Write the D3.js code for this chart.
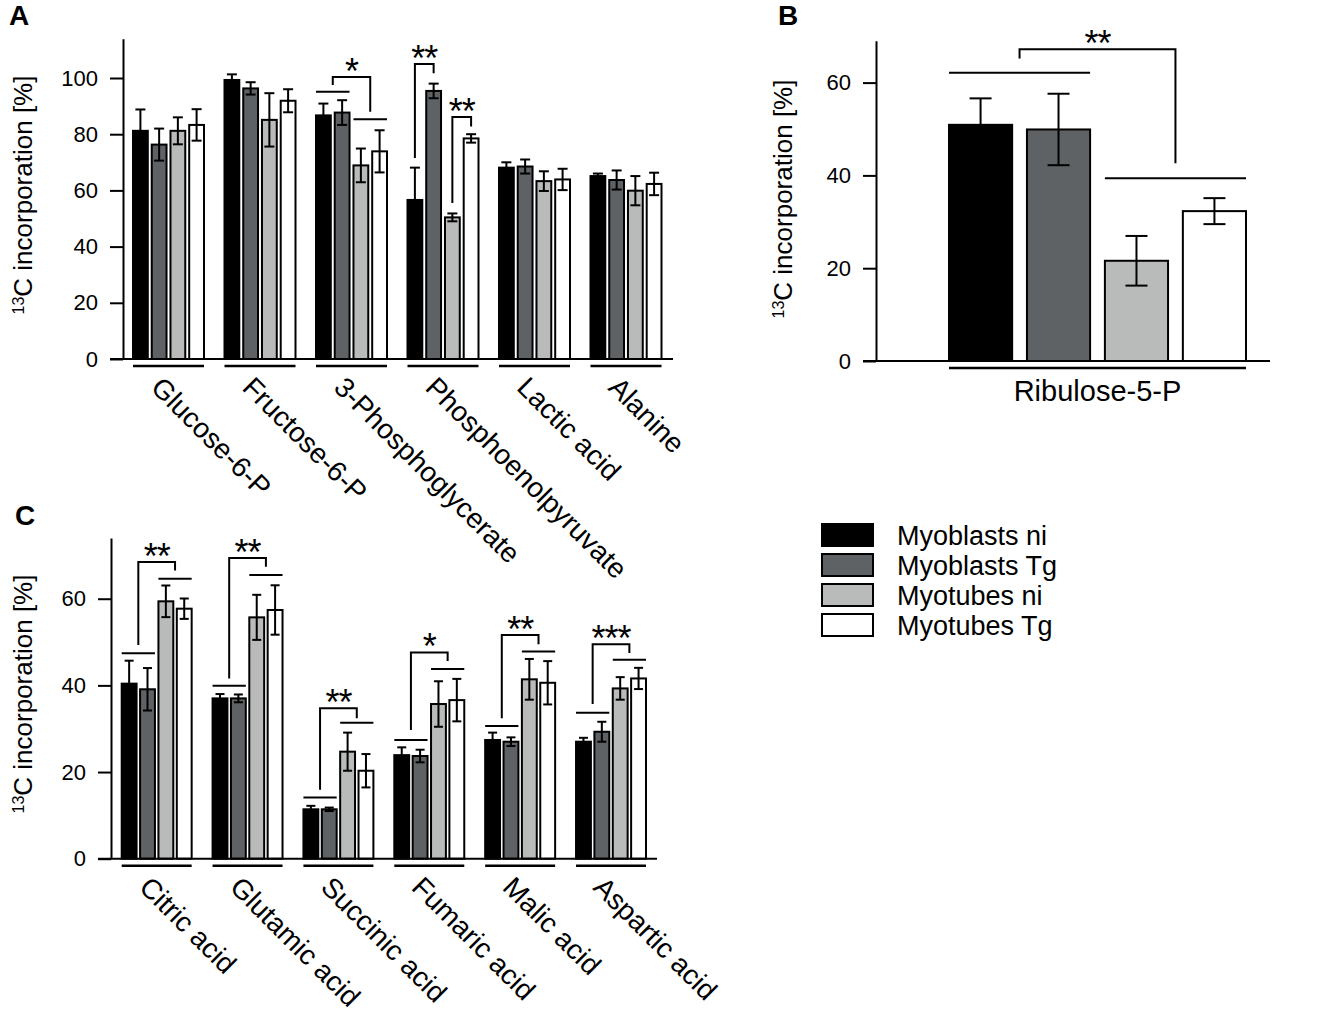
<!DOCTYPE html>
<html>
<head>
<meta charset="utf-8">
<script src="https://cdn.jsdelivr.net/npm/d3@7"></script>
<style>
    body { margin: 0; background: #fff; }
    svg { font-family: "Liberation Sans", Arial, sans-serif; }
    .axis path, .axis line { stroke: #000; stroke-width: 2; }
    .axis text { font-size: 22px; fill: #000; }
</style>
</head>
<body>
<div id="figure"></div>
<script>
// ---------------------------------------------------------------------------
// ------------------------------- Data --------------------------------------
// ---------------------------------------------------------------------------
var conditions = ["Myoblasts ni", "Myoblasts Tg", "Myotubes ni", "Myotubes Tg"];

// A - glycolysis
var glycolysisNames = ["Glucose-6-P", "Fructose-6-P", "3-Phosphoglycerate", "Phosphoenolpyruvate", "Lactic acid", "Alanine"];
var glycolysisMeans = [
    [81.2, 76.3, 81.2, 83.3],
    [99.3, 96.3, 85.1, 91.9],
    [86.7, 87.7, 68.9, 73.9],
    [56.6, 95.4, 50.4, 78.5],
    [68.1, 68.5, 63.3, 63.9],
    [65.1, 63.7, 59.9, 62.3]
];
var glycolysisErrors = [
    [7.6, 5.7, 4.8, 5.6],
    [2.0, 2.2, 9.5, 4.1],
    [4.2, 4.4, 6.0, 7.5],
    [11.5, 2.6, 1.4, 1.5],
    [1.9, 2.5, 3.5, 3.8],
    [0.9, 3.4, 5.2, 4.0]
];
var glycolysisTicks = [0, 20, 40, 60, 80, 100];
// significance brackets (values in % units)
var glycolysisSignif = [
    {cat: 2, left: [0, 1], right: [2, 3], lineL: 95.1, lineR: 85.3, top: 100.4, legL: 97.5, legR: 88.0, stars: "*"},
    {cat: 3, left: [0, 0], right: [1, 1], top: 105.0, legL: 71.5, legR: 101.7, stars: "**"},
    {cat: 3, left: [2, 2], right: [3, 3], top: 86.1, legL: 55.5, legR: 82.7, stars: "**"}
];

// B - pentose phosphate
var pppNames = ["Ribulose-5-P"];
var pppMeans = [[50.9, 49.9, 21.6, 32.3]];
var pppErrors = [[5.7, 7.7, 5.35, 2.8]];
var pppTicks = [0, 20, 40, 60];
var pppSignif = [
    {cat: 0, left: [0, 1], right: [2, 3], lineL: 62.1, lineR: 39.4, top: 67.2, legL: 65.2, legR: 42.6, stars: "**"}
];

// C - TCA cycle
var tcaNames = ["Citric acid", "Glutamic acid", "Succinic acid", "Fumaric acid", "Malic acid", "Aspartic acid"];
var tcaMeans = [
    [40.4, 39.1, 59.4, 57.7],
    [37.0, 37.0, 55.7, 57.4],
    [11.4, 11.4, 24.7, 20.3],
    [23.9, 23.7, 35.7, 36.6],
    [27.4, 27.0, 41.4, 40.6],
    [27.0, 29.3, 39.3, 41.6]
];
var tcaErrors = [
    [5.3, 4.9, 3.65, 2.35],
    [1.0, 0.9, 5.2, 5.7],
    [0.8, 0.4, 4.4, 3.85],
    [1.8, 1.45, 5.25, 4.9],
    [1.7, 1.0, 4.7, 5.0],
    [0.9, 2.3, 2.6, 2.45]
];
var tcaTicks = [0, 20, 40, 60];
var tcaSignif = [
    {cat: 0, left: [0, 1], right: [2, 3], lineL: 47.4, lineR: 64.6, top: 68.5, legL: 49.3, legR: 66.5, stars: "**"},
    {cat: 1, left: [0, 1], right: [2, 3], lineL: 39.9, lineR: 65.5, top: 69.4, legL: 41.6, legR: 67.4, stars: "**"},
    {cat: 2, left: [0, 1], right: [2, 3], lineL: 14.1, lineR: 31.4, top: 34.7, legL: 15.9, legR: 32.4, stars: "**"},
    {cat: 3, left: [0, 1], right: [2, 3], lineL: 27.4, lineR: 43.8, top: 47.6, legL: 29.7, legR: 45.6, stars: "*"},
    {cat: 4, left: [0, 1], right: [2, 3], lineL: 30.6, lineR: 47.8, top: 51.6, legL: 32.4, legR: 49.5, stars: "**"},
    {cat: 5, left: [0, 1], right: [2, 3], lineL: 33.7, lineR: 45.9, top: 49.5, legL: 35.7, legR: 47.5, stars: "***"}
];

(function (d3) {
    "use strict";

    var fills = ["#000000", "#5e6265", "#b9baba", "#ffffff"];

    var svg = d3.select("#figure").append("svg")
        .attr("width", 1321)
        .attr("height", 1012);

    // -----------------------------------------------------------------------
    // ------------------------------ Panels ---------------------------------
    // -----------------------------------------------------------------------
    drawPanel(svg, {
        letter: "A", letterX: 9, letterY: 25,
        names: glycolysisNames, means: glycolysisMeans, errors: glycolysisErrors,
        ticks: glycolysisTicks, signif: glycolysisSignif,
        yMax: 114, y0: 359, pxPerUnit: 2.81,
        axisX: 123, barsX: [133, 661.5], baseX: [110, 673],
        groupPad: 0.224, barPad: 0.21, cap: 10,
        titleX: 32, titleY: 195, rotated: true
    });

    drawPanel(svg, {
        letter: "B", letterX: 778, letterY: 25,
        names: pppNames, means: pppMeans, errors: pppErrors,
        ticks: pppTicks, signif: pppSignif,
        yMax: 69, y0: 361, pxPerUnit: 4.64,
        axisX: 876, barsX: [949, 1246], baseX: [863, 1270],
        groupPad: 0, barPad: 0.19, cap: 22,
        titleX: 792, titleY: 199, rotated: false
    });

    drawPanel(svg, {
        letter: "C", letterX: 15, letterY: 525,
        names: tcaNames, means: tcaMeans, errors: tcaErrors,
        ticks: tcaTicks, signif: tcaSignif,
        yMax: 74, y0: 858.7, pxPerUnit: 4.333,
        axisX: 111, barsX: [121.7, 646], baseX: [98, 657],
        groupPad: 0.23, barPad: 0.19, cap: 9,
        titleX: 32, titleY: 694, rotated: true
    });

    // -----------------------------------------------------------------------
    // ------------------------------ Legend ---------------------------------
    // -----------------------------------------------------------------------
    var legend = svg.append("g").attr("class", "legend")
        .attr("transform", "translate(822,524)");
    conditions.forEach(function (name, i) {
        legend.append("rect")
            .attr("x", 0).attr("y", i * 30)
            .attr("width", 51).attr("height", 22)
            .attr("fill", fills[i])
            .attr("stroke", "#000").attr("stroke-width", 2);
        legend.append("text")
            .attr("x", 75).attr("y", i * 30 + 21)
            .style("font-size", "27px")
            .text(name);
    });

    function drawPanel(svg, p) {
        var g = svg.append("g");

        var yScale = d3.scaleLinear()
            .domain([0, p.yMax])
            .range([p.y0, p.y0 - p.yMax * p.pxPerUnit]);

        var xScale = d3.scaleBand()
            .domain(p.names)
            .range(p.barsX)
            .paddingInner(p.groupPad)
            .paddingOuter(0);

        var xInner = d3.scaleBand()
            .domain(d3.range(conditions.length))
            .range([0, xScale.bandwidth()])
            .paddingInner(p.barPad)
            .paddingOuter(0);

        // panel letter
        svg.append("text")
            .attr("x", p.letterX).attr("y", p.letterY)
            .style("font-size", "28px").style("font-weight", "bold")
            .text(p.letter);

        // y axis title
        var title = svg.append("text")
            .attr("transform", "translate(" + p.titleX + "," + p.titleY + ")rotate(-90)")
            .attr("text-anchor", "middle")
            .style("font-size", "26px");
        title.append("tspan").attr("baseline-shift", "super").style("font-size", "16px").text("13");
        title.append("tspan").text("C incorporation [%]");

        // bars
        p.names.forEach(function (name, ci) {
            var cat = g.append("g")
                .attr("transform", "translate(" + xScale(name) + ",0)");

            cat.selectAll("rect")
                .data(p.means[ci])
                .enter().append("rect")
                .attr("x", function (d, i) { return xInner(i); })
                .attr("y", function (d) { return yScale(d); })
                .attr("width", xInner.bandwidth())
                .attr("height", function (d) { return yScale(0) - yScale(d); })
                .attr("fill", function (d, i) { return fills[i]; })
                .attr("stroke", "#000")
                .attr("stroke-width", 2);

            // error bars
            p.means[ci].forEach(function (m, i) {
                var e = p.errors[ci][i];
                var cx = xInner(i) + xInner.bandwidth() / 2;
                cat.append("line")
                    .attr("x1", cx).attr("x2", cx)
                    .attr("y1", yScale(m - e)).attr("y2", yScale(m + e))
                    .attr("stroke", "#000").attr("stroke-width", 2);
                [m - e, m + e].forEach(function (v) {
                    cat.append("line")
                        .attr("x1", cx - p.cap / 2).attr("x2", cx + p.cap / 2)
                        .attr("y1", yScale(v)).attr("y2", yScale(v))
                        .attr("stroke", "#000").attr("stroke-width", 2);
                });
            });

            // group underline
            g.append("line")
                .attr("x1", xScale(name)).attr("x2", xScale(name) + xScale.bandwidth())
                .attr("y1", yScale(0) + 7).attr("y2", yScale(0) + 7)
                .attr("stroke", "#000").attr("stroke-width", 2.5);

            // category label
            var cx = xScale(name) + xScale.bandwidth() / 2;
            if (p.rotated) {
                g.append("text")
                    .attr("transform", "translate(" + (cx - 19) + "," + (yScale(0) + 30) + ")rotate(45)")
                    .style("font-size", "28px")
                    .text(name);
            } else {
                g.append("text")
                    .attr("x", cx).attr("y", yScale(0) + 40)
                    .attr("text-anchor", "middle")
                    .style("font-size", "29px")
                    .text(name);
            }
        });

        // significance brackets
        p.signif.forEach(function (s) {
            var gx = xScale(p.names[s.cat]);
            var lx0 = gx + xInner(s.left[0]), lx1 = gx + xInner(s.left[1]) + xInner.bandwidth();
            var rx0 = gx + xInner(s.right[0]), rx1 = gx + xInner(s.right[1]) + xInner.bandwidth();
            var legLX = (lx0 + lx1) / 2, legRX = (rx0 + rx1) / 2;

            if (s.lineL !== undefined) {
                g.append("line").attr("x1", lx0).attr("x2", lx1)
                    .attr("y1", yScale(s.lineL)).attr("y2", yScale(s.lineL))
                    .attr("stroke", "#000").attr("stroke-width", 2);
                g.append("line").attr("x1", rx0).attr("x2", rx1)
                    .attr("y1", yScale(s.lineR)).attr("y2", yScale(s.lineR))
                    .attr("stroke", "#000").attr("stroke-width", 2);
            }

            g.append("path")
                .attr("d", "M" + legLX + "," + yScale(s.legL) +
                    "V" + yScale(s.top) + "H" + legRX + "V" + yScale(s.legR))
                .attr("fill", "none")
                .attr("stroke", "#000").attr("stroke-width", 2);

            g.append("text")
                .attr("x", (legLX + legRX) / 2)
                .attr("y", yScale(s.top) + 7)
                .attr("text-anchor", "middle")
                .style("font-size", "36px")
                .style("letter-spacing", "-1px")
                .text(s.stars);
        });

        // axes
        var yAxis = d3.axisLeft(yScale)
            .tickValues(p.ticks)
            .tickSize(13)
            .tickSizeOuter(0)
            .tickPadding(12);

        g.append("g")
            .attr("class", "y axis")
            .attr("transform", "translate(" + p.axisX + ",0)")
            .call(yAxis);

        g.append("line")
            .attr("x1", p.baseX[0]).attr("x2", p.baseX[1])
            .attr("y1", yScale(0)).attr("y2", yScale(0))
            .attr("stroke", "#000").attr("stroke-width", 2);
    }

})(d3);
</script>
</body>
</html>
